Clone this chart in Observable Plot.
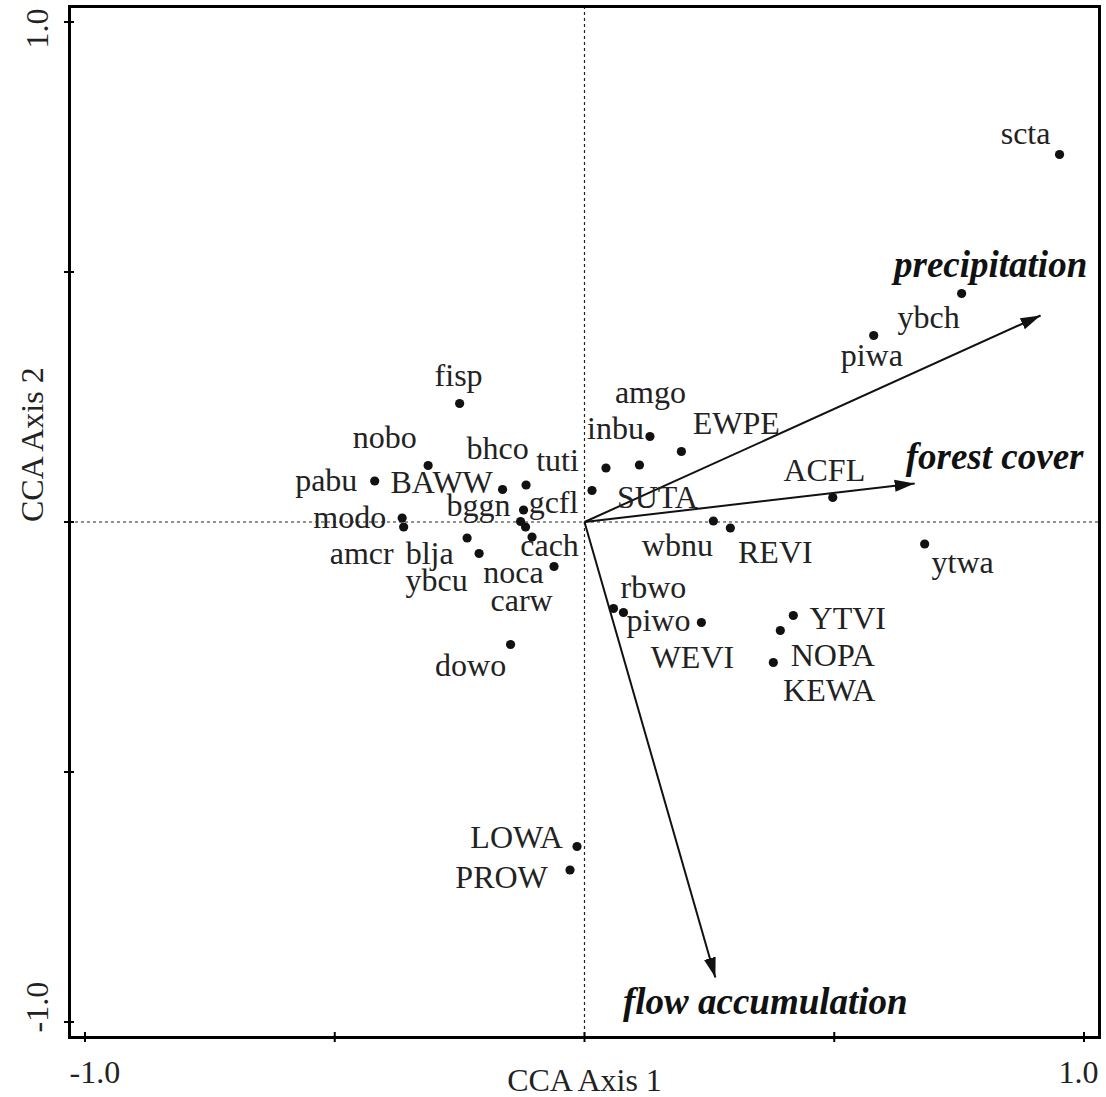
<!DOCTYPE html>
<html><head><meta charset="utf-8">
<script src="https://cdn.jsdelivr.net/npm/d3@7"></script>
<script src="https://cdn.jsdelivr.net/npm/@observablehq/plot@0.6"></script>
<style>body{margin:0;background:#fff}</style>
</head><body><div id="chart"></div>
<script>
// Species scores (CCA axis 1, axis 2) and label positions (data units)
const species = ["scta","ybch","piwa","fisp","nobo","pabu","BAWW","bhco","gcfl","bggn","carw","cach","modo","amcr","blja","ybcu","noca","dowo","tuti","amgo","EWPE","inbu","SUTA","wbnu","REVI","ACFL","rbwo","piwo","WEVI","YTVI","NOPA","KEWA","LOWA","PROW","ytwa"];
const axis1 = [0.951,0.755,0.579,-0.250,-0.313,-0.420,-0.164,-0.117,-0.122,-0.128,-0.118,-0.105,-0.365,-0.362,-0.235,-0.211,-0.061,-0.148,0.015,0.131,0.194,0.043,0.110,0.258,0.292,0.497,0.058,0.078,0.234,0.418,0.392,0.378,-0.015,-0.029,0.681];
const axis2 = [0.735,0.457,0.373,0.237,0.113,0.082,0.065,0.074,0.024,0.001,-0.010,-0.030,0.008,-0.010,-0.032,-0.063,-0.089,-0.245,0.063,0.171,0.141,0.108,0.114,0.002,-0.012,0.049,-0.173,-0.181,-0.201,-0.187,-0.217,-0.281,-0.649,-0.696,-0.044];
const labelAxis1 = [0.883,0.689,0.575,-0.252,-0.400,-0.517,-0.286,-0.174,-0.062,-0.212,-0.126,-0.070,-0.470,-0.446,-0.310,-0.296,-0.142,-0.228,-0.054,0.132,0.304,0.062,0.146,0.186,0.382,0.480,0.138,0.148,0.216,0.527,0.497,0.490,-0.136,-0.166,0.757];
const labelAxis2 = [0.777,0.409,0.333,0.293,0.169,0.083,0.079,0.147,0.039,0.033,-0.157,-0.047,0.009,-0.063,-0.063,-0.117,-0.101,-0.287,0.123,0.259,0.197,0.187,0.049,-0.047,-0.061,0.103,-0.131,-0.197,-0.271,-0.193,-0.267,-0.337,-0.631,-0.711,-0.081];

// Environmental vectors
const envVars = ["precipitation","forest cover","flow accumulation"];
const envAxis1 = [0.913,0.661,0.262];
const envAxis2 = [0.413,0.077,-0.911];
const envLabelAxis1 = [0.813,0.821,0.362];
const envLabelAxis2 = [0.513,0.129,-0.961];

const axisTicks = [-1,-0.5,0,0.5,1];
const xTickLabels = ["-1.0","1.0"];
const yTickLabels = ["-1.0","1.0"];
const xTitle = "CCA Axis 1";
const yTitle = "CCA Axis 2";

const spData = species.map((s,i)=>({s, x:axis1[i], y:axis2[i], lx:labelAxis1[i], ly:labelAxis2[i]}));
const envData = envVars.map((s,i)=>({s, x:envAxis1[i], y:envAxis2[i], lx:envLabelAxis1[i], ly:envLabelAxis2[i]}));

const serif = "'Liberation Serif','Times New Roman',serif";

const head = (color) => {
  const m = d3.create("svg:marker")
    .attr("viewBox","-20 -7 21 14")
    .attr("markerWidth",21).attr("markerHeight",14)
    .attr("markerUnits","userSpaceOnUse")
    .attr("refX",0).attr("refY",0)
    .attr("orient","auto");
  m.append("path").attr("d","M-20,-6L0,0L-20,6Z").attr("fill",color).attr("stroke","none");
  return m.node();
};

const plot = Plot.plot({
  width: 1106, height: 1097,
  marginLeft: 69, marginRight: 7, marginTop: 6, marginBottom: 60,
  x: {domain: [-1.031, 1.031]},
  y: {domain: [-1.031, 1.031]},
  style: {fontFamily: serif, background: "#fff"},
  marks: [
    Plot.ruleY([0], {stroke:"#222", strokeWidth:1.2, strokeDasharray:"3,3"}),
    Plot.ruleX([0], {stroke:"#222", strokeWidth:1.2, strokeDasharray:"3,3"}),
    Plot.link(envData, {x1: d=>0, y1: d=>0, x2:"x", y2:"y", stroke:"#111", strokeWidth:2, markerEnd: head}),
    Plot.dot(spData, {x:"x", y:"y", r:4.6, fill:"#111", stroke:null}),
    Plot.text(spData, {x:"lx", y:"ly", text:"s", fontSize:32, fontFamily:serif, fill:"#222"}),
    Plot.text(envData, {x:"lx", y:"ly", text:"s", fontSize:37, fontFamily:serif, fontWeight:"bold", fontStyle:"italic", fill:"#111"}),
    Plot.frame({stroke:"#000", strokeWidth:3}),
    Plot.axisX(axisTicks, {tickSize:10, dy:-5, tickFormat:()=>"", stroke:"#000", strokeWidth:2}),
    Plot.axisY(axisTicks, {tickSize:10, dx:5, tickFormat:()=>"", stroke:"#000", strokeWidth:2}),
    Plot.text([xTickLabels[0]], {frameAnchor:"bottom-left", textAnchor:"start", lineAnchor:"bottom", dy:45, fontSize:32, fill:"#222"}),
    Plot.text([xTickLabels[1]], {frameAnchor:"bottom-right", textAnchor:"end", lineAnchor:"bottom", dx:-1, dy:45, fontSize:32, fill:"#222"}),
    Plot.text([yTickLabels[0]], {frameAnchor:"bottom-left", textAnchor:"start", lineAnchor:"bottom", rotate:-90, dx:-22, dy:-5, fontSize:32, fill:"#222"}),
    Plot.text([yTickLabels[1]], {frameAnchor:"top-left", textAnchor:"end", lineAnchor:"bottom", rotate:-90, dx:-22, dy:2, fontSize:32, fill:"#222"}),
    Plot.text([xTitle], {frameAnchor:"bottom", lineAnchor:"bottom", dy:53, fontSize:32, fill:"#222"}),
    Plot.text([yTitle], {frameAnchor:"left", lineAnchor:"bottom", rotate:-90, dx:-27, fontSize:32, fill:"#222"})
  ]
});
document.getElementById("chart").appendChild(plot);
</script>
</body></html>
